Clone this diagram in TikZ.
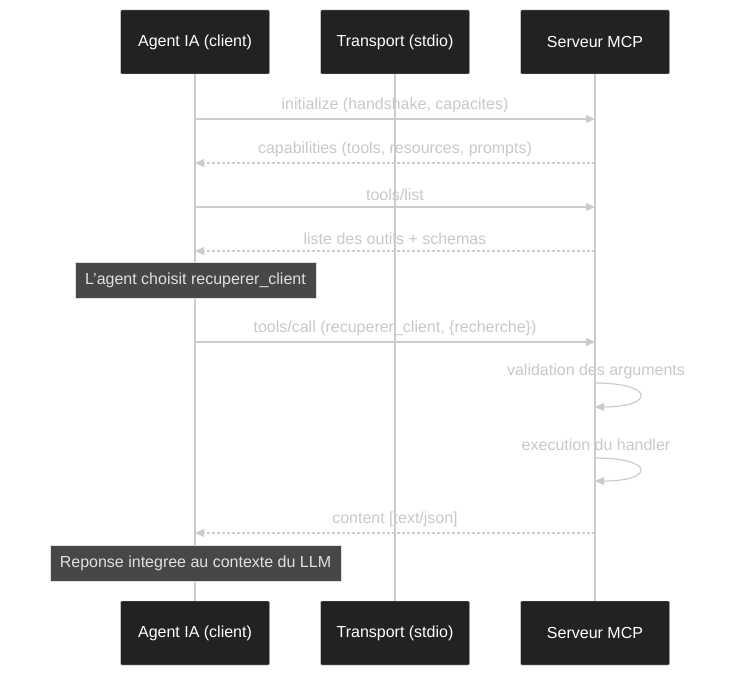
\documentclass[tikz,border=0pt]{standalone}
\usepackage{fontspec}
\setmainfont{Liberation Sans}
\usetikzlibrary{arrows.meta,positioning}
\definecolor{boxfill}{HTML}{222222}
\definecolor{notefill}{HTML}{474747}
\definecolor{linegray}{HTML}{CCCCCC}
\definecolor{textgray}{HTML}{C8C8C8}
\tikzset{
  actor/.style={draw=linegray!70, fill=boxfill, text=white, minimum width=149pt, minimum height=64pt,
    font=\fontsize{16}{18}\selectfont, rounded corners=1pt},
  note/.style={draw=linegray!60, fill=notefill, text=white!88!black, minimum height=36pt,
    font=\fontsize{16}{18}\selectfont, inner xsep=10pt},
  life/.style={linegray, line width=1.5pt},
  msg/.style={linegray, line width=1.2pt, -{Triangle[length=9pt,width=8pt]}},
  reply/.style={msg, dash pattern=on 3pt off 2pt},
  lbl/.style={text=textgray, font=\fontsize{16}{18}\selectfont}
}
\begin{document}
\begin{tikzpicture}[x=1pt,y=-1pt]
\useasboundingbox (0,0) rectangle (736,677);

% Actors
\node[actor] (agT) at (195,42) {Agent IA (client)};
\node[actor] (trT) at (395,42) {Transport (stdio)};
\node[actor] (svT) at (595,42) {Serveur MCP};
\node[actor] (agB) at (195,633) {Agent IA (client)};
\node[actor] (trB) at (395,633) {Transport (stdio)};
\node[actor] (svB) at (595,633) {Serveur MCP};

% Lifelines
\draw[life] (agT) -- (agB);
\draw[life] (trT) -- (trB);
\draw[life] (svT) -- (svB);

% Messages
\foreach \y/\n in {119/a,163/b,207/c,251/d,342/e,383/f,407/g,458/h,481/i,533/j}{
  \coordinate (ag\n) at (195,\y);
  \coordinate (sv\n) at (595,\y);
}
\draw[msg] (aga) -- node[lbl, above=2pt] {initialize (handshake, capacites)} (sva);
\draw[reply] (svb) -- node[lbl, above=2pt] {capabilities (tools, resources, prompts)} (agb);
\draw[msg] (agc) -- node[lbl, above=2pt] {tools/list} (svc);
\draw[reply] (svd) -- node[lbl, above=2pt] {liste des outils + schemas} (agd);

\node[note] (choix) at (195.5,280) {L'agent choisit recuperer\_client};

\draw[msg] (age) -- node[lbl, above=2pt] {tools/call (recuperer\_client, \{recherche\})} (sve);

% Self calls
\node[lbl] (valid) at (596,371) {validation des arguments};
\draw[msg] (svf) .. controls (655,383) and (655,407) .. (svg);
\node[lbl] (exec) at (596,445) {execution du handler};
\draw[msg] (svh) .. controls (655,458) and (655,481) .. (svi);

\draw[reply] (svj) -- node[lbl, above=2pt] {content [text/json]} (agj);

\node[note] (rep) at (195.5,563.5) {Reponse integree au contexte du LLM};
\end{tikzpicture}
\end{document}
